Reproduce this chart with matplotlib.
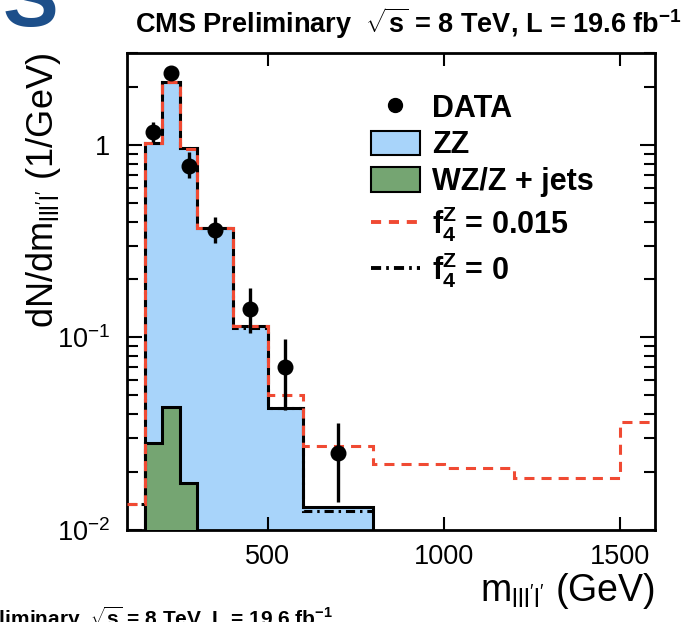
import numpy as np
import matplotlib
matplotlib.use("Agg")
import matplotlib.pyplot as plt
from matplotlib.lines import Line2D
from matplotlib.patches import Patch
from matplotlib.ticker import FuncFormatter, NullLocator

plt.rcParams['font.family'] = ['Liberation Sans', 'DejaVu Sans']
plt.rcParams['mathtext.fontset'] = 'custom'
plt.rcParams['mathtext.rm'] = 'Liberation Sans'
plt.rcParams['mathtext.it'] = 'Liberation Sans:italic'
plt.rcParams['mathtext.bf'] = 'Liberation Sans:bold'

# --- data ---
# stacked MC (bin edges in GeV, values in 1/GeV)
mc_edges = [150, 200, 250, 300, 400, 500, 600, 800]
zz_total = [1.02, 2.12, 0.965, 0.371, 0.115, 0.043, 0.0132]   # ZZ + WZ/Z+jets
bkg_edges = [150, 200, 250, 300]
bkg_vals = [0.0282, 0.0434, 0.0175]                         # WZ/Z + jets

# aTGC predictions
f4_015_edges = [100, 150, 200, 250, 300, 400, 500, 600, 800, 1000, 1200, 1500, 1600]
f4_015_vals = [0.0136, 1.02, 2.12, 0.95, 0.371, 0.115, 0.05, 0.0272, 0.022, 0.021, 0.0186, 0.0363]
f4_0_edges = [100, 150, 200, 250, 300, 400, 500, 600, 800]
f4_0_vals = [0.0136, 1.02, 2.12, 0.965, 0.371, 0.112, 0.043, 0.0125]

# data points
data_x = [175, 225, 275, 350, 450, 550, 700]
data_y = [1.17, 2.36, 0.78, 0.36, 0.14, 0.07, 0.025]
data_up = [1.32, 2.53, 0.92, 0.42, 0.18, 0.098, 0.036]
data_lo = [1.04, 2.17, 0.675, 0.31, 0.106, 0.042, 0.014]

title = r"CMS Preliminary  $\sqrt{\mathbf{s}}$ = 8 TeV, L = 19.6 fb$^{\mathbf{-1}}$"

fig = plt.figure(figsize=(6.87, 6.22), dpi=100)
ax = fig.add_axes([127/687, 1-530/622, (655-127)/687, (530-53)/622])

blue = '#a8d4fa'
green = '#75a572'
red = '#f04a33'

ax.stairs(zz_total, mc_edges, baseline=1e-5, fill=True, color=blue, zorder=1)
ax.stairs(zz_total, mc_edges, baseline=1e-5, color='black', lw=2.2, zorder=2)
ax.stairs(bkg_vals, bkg_edges, baseline=1e-5, fill=True, color=green, zorder=3)
ax.stairs(bkg_vals, bkg_edges, baseline=1e-5, color='black', lw=2.2, zorder=4)

ax.stairs(f4_0_vals, f4_0_edges, baseline=None, color='black', lw=2.2,
          linestyle=(0, (3.0, 1.6, 0.8, 1.6)), zorder=5)
ax.stairs(f4_015_vals, f4_015_edges, baseline=None, color=red, lw=2.2,
          linestyle=(0, (3.3, 2.3)), zorder=6)

yerr = [np.array(data_y) - np.array(data_lo), np.array(data_up) - np.array(data_y)]
ax.errorbar(data_x, data_y, yerr=yerr, fmt='o', color='black', ms=10.5,
            elinewidth=2.4, capsize=0, zorder=7)

def ylab(v, pos):
    if abs(v - 1) < 1e-9:
        return "1"
    return r"$\mathregular{10^{%d}}$" % int(round(np.log10(v)))

ax.set_yscale('log')
ax.set_xlim(100, 1600)
ax.set_ylim(0.01, 3.0)
ax.set_xticks([500, 1000, 1500])
ax.xaxis.set_minor_locator(NullLocator())
ax.yaxis.set_major_formatter(FuncFormatter(ylab))
ax.tick_params(which='both', direction='in', top=True, right=True, width=1.5,
               labelsize=19.5, colors='black')
ax.tick_params(axis='x', which='major', length=9.5, pad=10)
ax.tick_params(axis='y', which='major', length=11, pad=12)
ax.tick_params(axis='y', which='minor', length=8)
for sp in ax.spines.values():
    sp.set_linewidth(2)

ax.set_xlabel(r"m$_{\mathregular{lll'l'}}$ (GeV)", fontsize=27, loc='right', labelpad=1)
ax.set_ylabel(r"dN/dm$_{\mathregular{lll'l'}}$ (1/GeV)", fontsize=26, loc='top')
ax.yaxis.set_label_coords(-0.122, 1.0)

handles = [
    Line2D([], [], marker='o', color='black', ls='none', ms=10),
    Patch(facecolor=blue, edgecolor='black', lw=1.5),
    Patch(facecolor=green, edgecolor='black', lw=1.5),
    Line2D([], [], color=red, lw=2.8, ls=(0, (2.6, 2.0))),
    Line2D([], [], color='black', lw=2.8, ls=(0, (2.6, 1.3, 0.7, 1.3))),
]
labels = ['DATA', 'ZZ', 'WZ/Z + jets',
          r"f$_{\mathbf{4}}^{\mathbf{Z}}$ = 0.015", r"f$_{\mathbf{4}}^{\mathbf{Z}}$ = 0"]
leg = ax.legend(handles, labels, loc='upper left', bbox_to_anchor=(0.462, 0.915),
                frameon=False, prop={'weight': 'bold', 'size': 22}, borderpad=0,
                handlelength=1.6, handleheight=0.85, labelspacing=0.22,
                handletextpad=0.4, borderaxespad=0)

fig.text(682/687, 1-33/622, title, ha='right', va='baseline', fontsize=19.5, fontweight='bold')
fig.text(333/687, 1-605/622, title, ha='right', va='top', fontsize=15, fontweight='bold')
fig.text(3/687, 1-26/622, 'S', ha='left', va='baseline', fontsize=60, fontweight='bold',
         color='#1d4f8a')

fig.savefig('out.png', dpi=100)
